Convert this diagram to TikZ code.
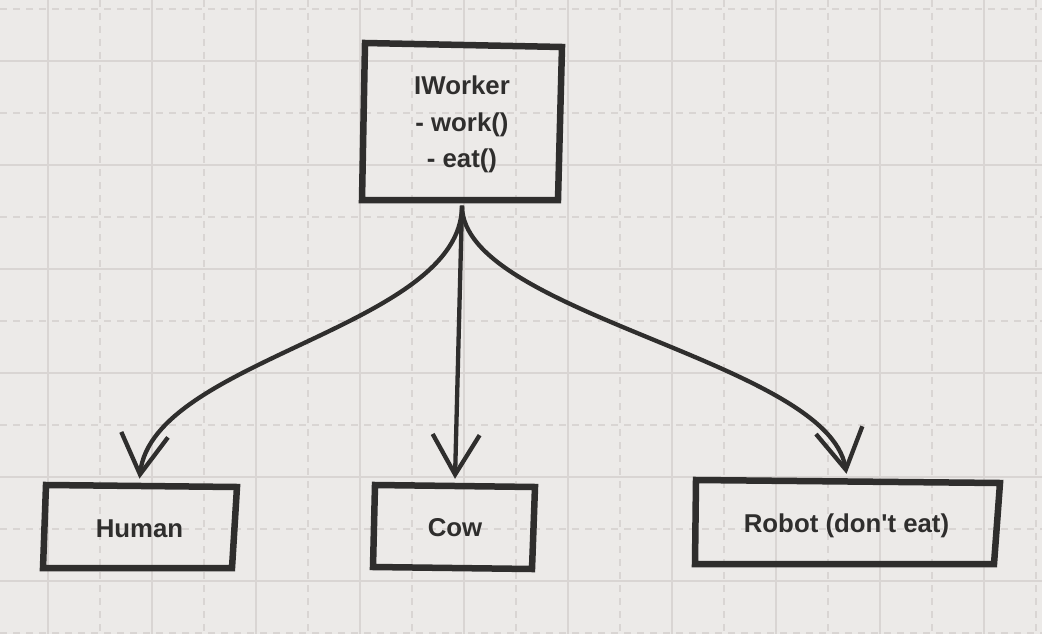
\documentclass[tikz,border=0pt]{standalone}
\usepackage{fontspec}
\setmainfont{Liberation Sans}
\usetikzlibrary{arrows.meta}
\definecolor{bg}{HTML}{ECEAE8}
\definecolor{gridc}{HTML}{D9D5D3}
\definecolor{ink}{HTML}{2F2E2D}
\begin{document}
\begin{tikzpicture}[x=1pt,y=-1pt,
  gridsolid/.style={gridc, line width=1.3pt},
  griddash/.style={gridc, line width=1.3pt, dash pattern=on 7pt off 6pt},
  boxline/.style={ink, line width=6.5pt, line join=miter},
  lbl/.style={font=\fontsize{25.8}{36.75}\selectfont\bfseries, text=ink, align=center, inner sep=0pt},
  conn/.style={ink, line width=4.3pt, -{Straight Barb[length=40pt,width=47pt]}}]
\fill[bg] (0,0) rectangle (1042,634);
\useasboundingbox (0,0) rectangle (1042,634);
% grid
\foreach \x in {48,152,...,984} \draw[gridsolid] (\x,0) -- (\x,634);
\foreach \x in {100,204,...,1036} \draw[griddash] (\x,0) -- (\x,634);
\foreach \y in {61,165,...,581} \draw[gridsolid] (0,\y) -- (1042,\y);
\foreach \y in {9,113,...,633} \draw[griddash] (0,\y) -- (1042,\y);
% nodes
\node[lbl, minimum width=198pt, minimum height=162pt] (iw) at (462,124.5) {IWorker\\- work()\\- eat()};
\node[lbl, minimum width=192pt, minimum height=100pt] (hu) at (139.5,528.8) {Human};
\node[lbl, minimum width=160pt, minimum height=97.4pt] (cw) at (455,527.7) {Cow};
\node[lbl, minimum width=300pt, minimum height=102.8pt] (rb) at (846.5,525.4) {Robot (don\textquotesingle t eat)};
% outlines
\draw[boxline] (365,43) -- (562,47) -- (558,200) -- (362,200) -- cycle;
\draw[boxline] (46,485) -- (237,487) -- (232,568) -- (43,568) -- cycle;
\draw[boxline] (375,485) -- (535,487) -- (532,569) -- (373,567) -- cycle;
\draw[boxline] (696,480) -- (1000,483) -- (994,564) -- (695,564) -- cycle;
% connectors
\draw[conn] (iw.south) .. controls +(0,122) and +(14,-120) .. (hu.north);
\draw[conn] (iw.south) -- (cw.north);
\draw[conn] (iw.south) .. controls +(0,108) and +(-19,-113) .. (rb.north);
\end{tikzpicture}
\end{document}
